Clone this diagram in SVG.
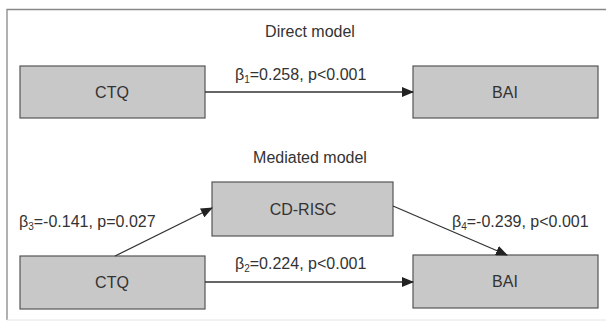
<svg xmlns="http://www.w3.org/2000/svg" width="606" height="324" viewBox="0 0 606 324">
<style>
.box{fill:#c8c8c8;stroke:#555;stroke-width:1.2}
.t{font-family:"Liberation Sans",Arial,sans-serif;font-size:16px;fill:#333}
.c{text-anchor:middle}
.e{stroke:#333;stroke-width:1.3;fill:none}
.s{font-size:10px}
</style>
<defs>
<marker id="ah" markerWidth="12" markerHeight="10" refX="11" refY="5" orient="auto" markerUnits="userSpaceOnUse">
<path d="M0,0 L12,5 L0,10 Z" fill="#222"/>
</marker>
</defs>
<rect x="0" y="0" width="606" height="324" fill="#fff"/>
<path d="M7,320 V9.5 H610" fill="none" stroke="#888" stroke-width="1.3"/>
<path d="M7,320 H606" fill="none" stroke="#e6e6e6" stroke-width="1"/>
<text class="t c" x="310" y="37">Direct model</text>
<text class="t c" x="310" y="163">Mediated model</text>
<g id="ctq1"><rect class="box" x="20" y="66" width="185" height="52"/><text class="t c" x="112" y="98">CTQ</text></g>
<g id="bai1"><rect class="box" x="413" y="66" width="185" height="52"/><text class="t c" x="505" y="98">BAI</text></g>
<g id="cdrisc"><rect class="box" x="212" y="182" width="181" height="54"/><text class="t c" x="303" y="215">CD-RISC</text></g>
<g id="ctq2"><rect class="box" x="20" y="256" width="185" height="53"/><text class="t c" x="112" y="288">CTQ</text></g>
<g id="bai2"><rect class="box" x="413" y="255" width="185" height="53"/><text class="t c" x="505" y="287">BAI</text></g>
<g id="connectors">
<line class="e" x1="205" y1="92" x2="413" y2="92" marker-end="url(#ah)"/>
<line class="e" x1="205" y1="282" x2="413" y2="282" marker-end="url(#ah)"/>
<line class="e" x1="115" y1="256" x2="212" y2="208" marker-end="url(#ah)"/>
<line class="e" x1="393" y1="206" x2="507" y2="255" marker-end="url(#ah)"/>
</g>
<text class="t" x="235" y="80">β<tspan class="s" dy="3">1</tspan><tspan dy="-3">=0.258, p&lt;0.001</tspan></text>
<text class="t" x="235" y="269">β<tspan class="s" dy="3">2</tspan><tspan dy="-3">=0.224, p&lt;0.001</tspan></text>
<text class="t" x="19" y="227">β<tspan class="s" dy="3">3</tspan><tspan dy="-3">=-0.141, p=0.027</tspan></text>
<text class="t" x="452" y="227">β<tspan class="s" dy="3">4</tspan><tspan dy="-3">=-0.239, p&lt;0.001</tspan></text>
</svg>
